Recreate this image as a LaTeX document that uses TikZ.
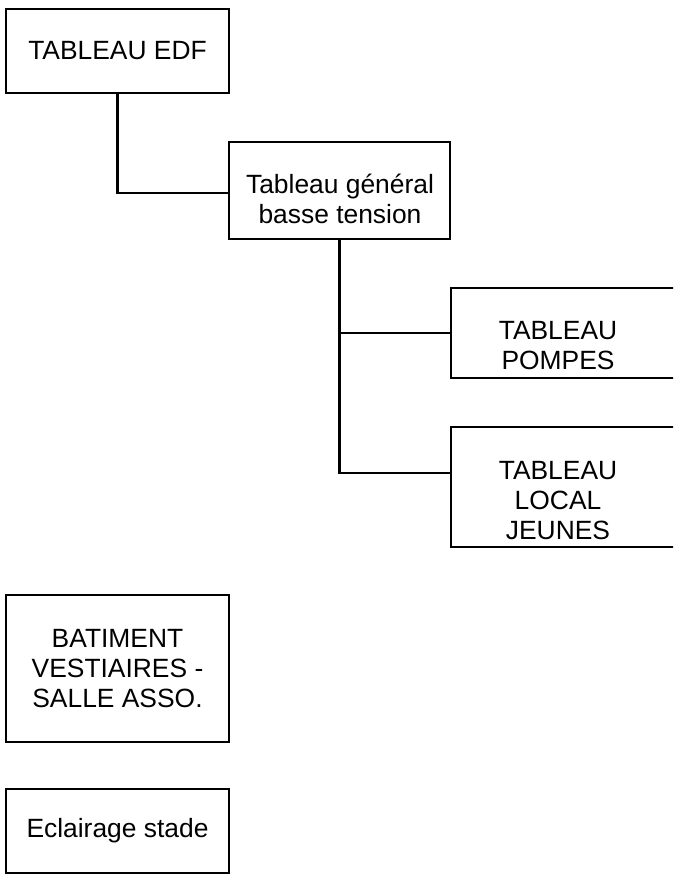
\documentclass[tikz,border=0pt]{standalone}
\usepackage{fontspec}
\setmainfont{Liberation Sans}
\usepackage{tikz}
\usetikzlibrary{positioning}

\begin{document}
\begin{tikzpicture}[x=1pt,y=-1pt,
    boite/.style={draw, line width=2.2pt, inner sep=0pt, outer sep=0pt},
    texte/.style={align=center, inner sep=0pt, font=\fontsize{26.4}{30}\selectfont}]
            % Schéma des tableaux électriques
            \path[use as bounding box, clip] (0,0) rectangle (673,874);
            \node[boite, texte, minimum width=223pt, minimum height=84pt] (edf) at (117.5,51) {TABLEAU EDF};
            \node[boite, minimum width=221pt, minimum height=97pt] (tgbt) at (339.5,190.5) {};
            \node[texte] (tgbt-t) at (340,199) {Tableau général\\basse tension};
            \node[boite, minimum width=258pt, minimum height=90pt] (pompes) at (580,333) {};
            \node[texte] (pompes-t) at (558,346) {TABLEAU\\POMPES};
            \node[boite, minimum width=258pt, minimum height=120pt] (jeunes) at (580,487) {};
            \node[texte] (jeunes-t) at (558,501) {TABLEAU\\LOCAL\\JEUNES};
            \node[boite, texte, minimum width=223pt, minimum height=147pt] (bat) at (117.5,668.5) {BATIMENT\\VESTIAIRES -\\SALLE ASSO.};
            \node[boite, texte, minimum width=223pt, minimum height=84pt] (ecl) at (117.5,831) {Eclairage stade};
            \draw[line width=2.2pt] (edf.south) |- ([yshift=-2.5pt]tgbt.west);
            \draw[line width=2.2pt] (tgbt.south) |- (pompes.west);
            \draw[line width=2.2pt] (tgbt.south) |- ([yshift=14pt]jeunes.west);
        \end{tikzpicture}
\end{document}
